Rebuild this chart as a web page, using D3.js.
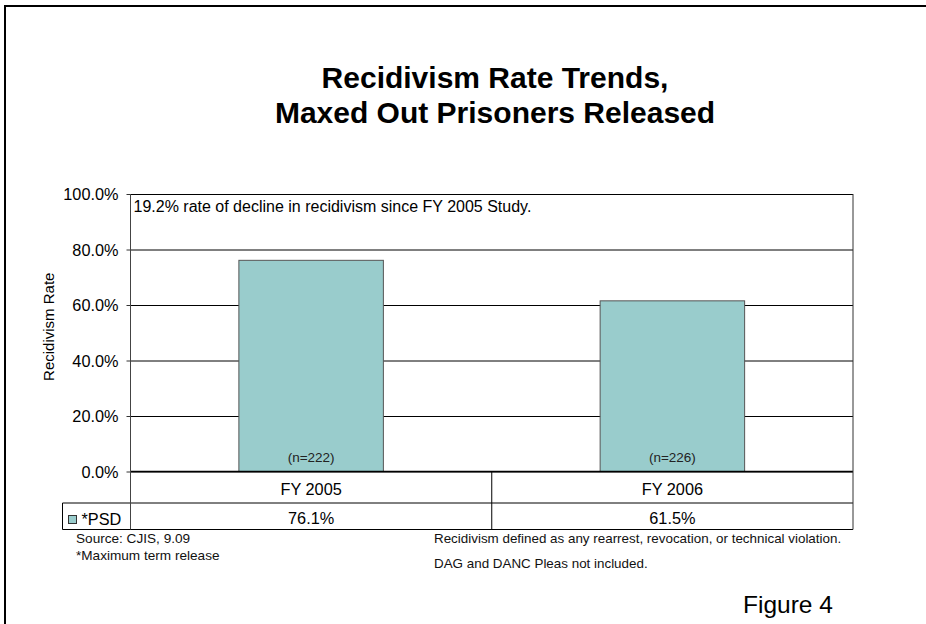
<!DOCTYPE html>
<html>
<head>
<meta charset="utf-8">
<script src="https://cdn.jsdelivr.net/npm/d3@7"></script>
<style>
  html, body { margin: 0; padding: 0; background: #fff; overflow: hidden; }
  svg { display: block; }
  text { font-family: "Liberation Sans", Arial, Helvetica, sans-serif; fill: #000; }
</style>
</head>
<body>
<svg id="chart" width="926" height="624"></svg>
<script>
// Recidivism rate, maxed-out prisoners released
const categories = ["FY 2005", "FY 2006"];
const psdRates = [76.1, 61.5];          // percent
const sampleSizes = [222, 226];
const yTicks = [0, 20, 40, 60, 80, 100];
const seriesName = "*PSD";
const titleLines = ["Recidivism Rate Trends,", "Maxed Out Prisoners Released"];
const annotation = "19.2% rate of decline in recidivism since FY 2005 Study.";
const notesLeft = ["Source: CJIS, 9.09", "*Maximum term release"];
const notesRight = ["Recidivism defined as any rearrest, revocation, or technical violation.",
                    "DAG and DANC Pleas not included."];
const figureLabel = "Figure 4";

const svg = d3.select("#chart");
const barColor = "#99cccc";

// outer frame (runs off the right and bottom edges)
svg.append("rect")
  .attr("x", 5).attr("y", 6).attr("width", 960).attr("height", 660)
  .attr("fill", "none").attr("stroke", "#000").attr("stroke-width", 2);

// title
svg.append("g").selectAll("text").data(titleLines).join("text")
  .attr("x", 495).attr("y", (d, i) => 88 + i * 34.5)
  .attr("text-anchor", "middle")
  .attr("font-size", 30).attr("font-weight", "bold")
  .text(d => d);

// plot area
const plot = { left: 130.5, right: 853, top: 194, bottom: 471.5 };
const tableRow1 = 503, tableRow2 = 529.5, legendLeft = 62.5;

const x = d3.scaleBand().domain(categories).range([plot.left, plot.right]).padding(0);
const y = d3.scaleLinear().domain([0, 100]).range([plot.bottom, plot.top]);
const barW = x.bandwidth() * 0.4;

// gridlines
svg.append("g")
  .attr("transform", `translate(${plot.left},0)`)
  .call(d3.axisLeft(y).tickValues(yTicks).tickSize(-(plot.right - plot.left)).tickFormat(""))
  .call(g => g.select(".domain").remove())
  .call(g => g.selectAll("line").attr("stroke", "#000").attr("stroke-width", 1));

// bars
svg.append("g").selectAll("rect").data(categories).join("rect")
  .attr("x", (d) => x(d) + (x.bandwidth() - barW) / 2)
  .attr("y", (d, i) => y(psdRates[i]))
  .attr("width", barW)
  .attr("height", (d, i) => y(0) - y(psdRates[i]))
  .attr("fill", barColor)
  .attr("stroke", "#555").attr("stroke-width", 1);

// sample size labels inside the bars
svg.append("g").selectAll("text").data(categories).join("text")
  .attr("x", d => x(d) + x.bandwidth() / 2)
  .attr("y", y(0) - 10)
  .attr("text-anchor", "middle")
  .attr("font-size", 13.5).style("fill", "#222")
  .text((d, i) => `(n=${sampleSizes[i]})`);

// y axis
const yAxis = svg.append("g")
  .attr("transform", `translate(${plot.left},0)`)
  .call(d3.axisLeft(y).tickValues(yTicks).tickSize(4).tickSizeOuter(0).tickPadding(8)
    .tickFormat(d => d3.format(".1f")(d) + "%"));
yAxis.select(".domain").remove();
yAxis.selectAll("line").attr("stroke", "#333");
yAxis.selectAll("text").attr("font-size", 16.3).attr("font-family", "Liberation Sans, Arial, sans-serif")
  .attr("dy", "0.36em").style("fill", "#000");

// y axis title
svg.append("text")
  .attr("transform", `translate(54,${(plot.top + plot.bottom) / 2 - 6}) rotate(-90)`)
  .attr("text-anchor", "middle")
  .attr("font-size", 15)
  .text("Recidivism Rate");

// annotation
svg.append("text")
  .attr("x", 133.5).attr("y", 211.5)
  .attr("font-size", 16)
  .text(annotation);

// data table lines
const lines = svg.append("g").attr("stroke", "#000").attr("stroke-width", 1);
lines.append("line").attr("x1", plot.left).attr("x2", plot.right).attr("y1", plot.bottom).attr("y2", plot.bottom).attr("stroke-width", 1.5);
lines.append("line").attr("x1", legendLeft).attr("x2", plot.right).attr("y1", tableRow1).attr("y2", tableRow1);
lines.append("line").attr("x1", legendLeft).attr("x2", plot.right).attr("y1", tableRow2).attr("y2", tableRow2);
lines.append("line").attr("x1", legendLeft).attr("x2", legendLeft).attr("y1", tableRow1).attr("y2", tableRow2);
lines.append("line").attr("x1", plot.right).attr("x2", plot.right).attr("y1", plot.top).attr("y2", tableRow2).attr("stroke", "#333");
lines.append("line").attr("x1", plot.left).attr("x2", plot.left).attr("y1", plot.top).attr("y2", tableRow2).attr("stroke", "#444");
lines.selectAll(null).data(categories.slice(1)).join("line")
  .attr("x1", d => x(d)).attr("x2", d => x(d))
  .attr("y1", plot.bottom).attr("y2", tableRow2);

// category row
svg.append("g").selectAll("text").data(categories).join("text")
  .attr("x", d => x(d) + x.bandwidth() / 2)
  .attr("y", 495)
  .attr("text-anchor", "middle")
  .attr("font-size", 16.3)
  .text(d => d);

// series row
svg.append("g").selectAll("text").data(categories).join("text")
  .attr("x", d => x(d) + x.bandwidth() / 2)
  .attr("y", 524)
  .attr("text-anchor", "middle")
  .attr("font-size", 16.3)
  .text((d, i) => d3.format(".1f")(psdRates[i]) + "%");

// legend key
svg.append("rect")
  .attr("x", 68.5).attr("y", 515.5).attr("width", 8).attr("height", 8)
  .attr("fill", barColor).attr("stroke", "#333").attr("stroke-width", 1);
svg.append("text")
  .attr("x", 81.5).attr("y", 524.5)
  .attr("font-size", 16.3)
  .text(seriesName);

// notes
svg.append("g").selectAll("text").data(notesLeft).join("text")
  .attr("x", 76).attr("y", (d, i) => 543 + i * 17)
  .attr("font-size", 13.6).style("fill", "#111")
  .text(d => d);
svg.append("g").selectAll("text").data(notesRight).join("text")
  .attr("x", 434).attr("y", (d, i) => 543 + i * 25)
  .attr("font-size", 13.4).style("fill", "#111")
  .text(d => d);

svg.append("text")
  .attr("x", 743).attr("y", 613)
  .attr("font-size", 24.5)
  .text(figureLabel);
</script>
</body>
</html>
